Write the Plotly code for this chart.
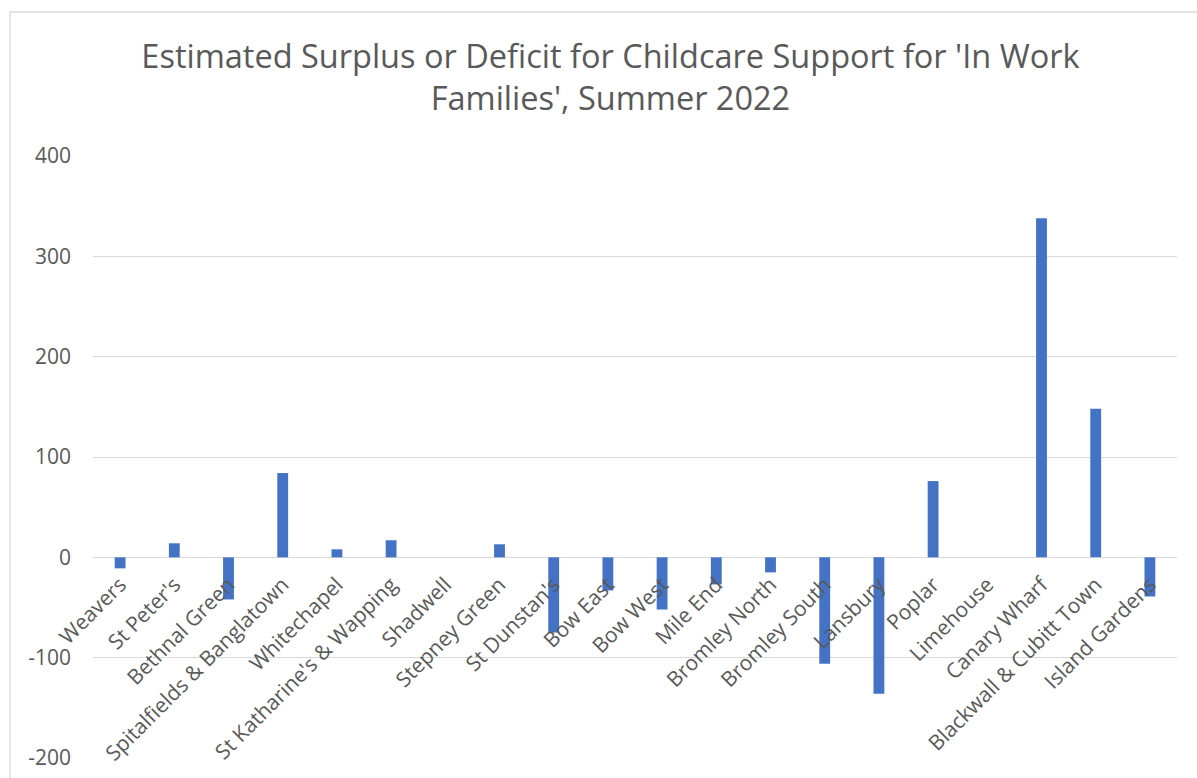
import plotly.graph_objects as go

wards = [
    "Weavers", "St Peter's", "Bethnal Green", "Spitalfields & Banglatown",
    "Whitechapel", "St Katharine's & Wapping", "Shadwell", "Stepney Green",
    "St Dunstan's", "Bow East", "Bow West", "Mile End", "Bromley North",
    "Bromley South", "Lansbury", "Poplar", "Limehouse", "Canary Wharf",
    "Blackwall & Cubitt Town", "Island Gardens",
]
surplus = [
    -11, 14, -42, 84, 8, 17, 0, 13, -75, -33,
    -52, -27, -15, -106, -136, 76, 0, 338, 148, -39,
]
y_ticks = [-200, -100, 0, 100, 200, 300, 400]
y_tick_text = ["-200", "-100", "0", "100", "200", "300", "400"]

W, H = 1197, 778
ml, mr, mt, mb = 93, 20, 156, 20
plot_w = W - ml - mr
plot_h = H - mt - mb

grey_text = "#595959"
grid_col = "#d9d9d9"

# category labels sit just under the zero line
zero_frac = (0 - y_ticks[0]) / (y_ticks[-1] - y_ticks[0])
label_drop_px = 10

fig = go.Figure(
    go.Bar(
        x=wards,
        y=surplus,
        width=0.2,
        marker=dict(color="#4472C4", line=dict(width=0)),
    )
)

fig.update_layout(
    width=W,
    height=H,
    margin=dict(l=ml, r=mr, t=mt, b=mb),
    paper_bgcolor="white",
    plot_bgcolor="white",
    showlegend=False,
    title=dict(
        text="Estimated Surplus or Deficit for Childcare Support for 'In Work<br>Families', Summer 2022",
        font=dict(family="Open Sans, sans-serif", size=32.5, color=grey_text),
        x=0.51,
        xanchor="center",
        xref="container",
        y=1 - 68 / H,
        yanchor="top",
        yref="container",
    ),
    xaxis=dict(
        type="category",
        anchor="free",
        position=zero_frac - label_drop_px / plot_h,
        tickangle=-45,
        tickfont=dict(family="Open Sans, sans-serif", size=21, color=grey_text),
        showgrid=False,
        showline=False,
        ticks="",
        automargin=False,
        range=[-0.5, len(wards) - 0.5],
        zeroline=False,
    ),
    yaxis=dict(
        range=[y_ticks[0], y_ticks[-1]],
        tickvals=y_ticks,
        ticktext=y_tick_text,
        tickfont=dict(family="Open Sans, sans-serif", size=21, color=grey_text),
        showgrid=True,
        gridcolor=grid_col,
        gridwidth=1.3,
        zeroline=True,
        zerolinecolor=grid_col,
        zerolinewidth=1.3,
        showline=False,
        ticks="",
        automargin=False,
        ticklabelstandoff=21,
    ),
    shapes=[
        # outer chart frame
        dict(
            type="rect",
            xref="paper",
            yref="paper",
            x0=(10 - ml) / plot_w,
            x1=(W + 10 - ml) / plot_w,
            y0=-0.2,
            y1=(H - mb - 12) / plot_h,
            line=dict(color="#d9d9d9", width=1.3),
            fillcolor="rgba(0,0,0,0)",
            layer="below",
        )
    ],
)

fig.write_html("out.html")
